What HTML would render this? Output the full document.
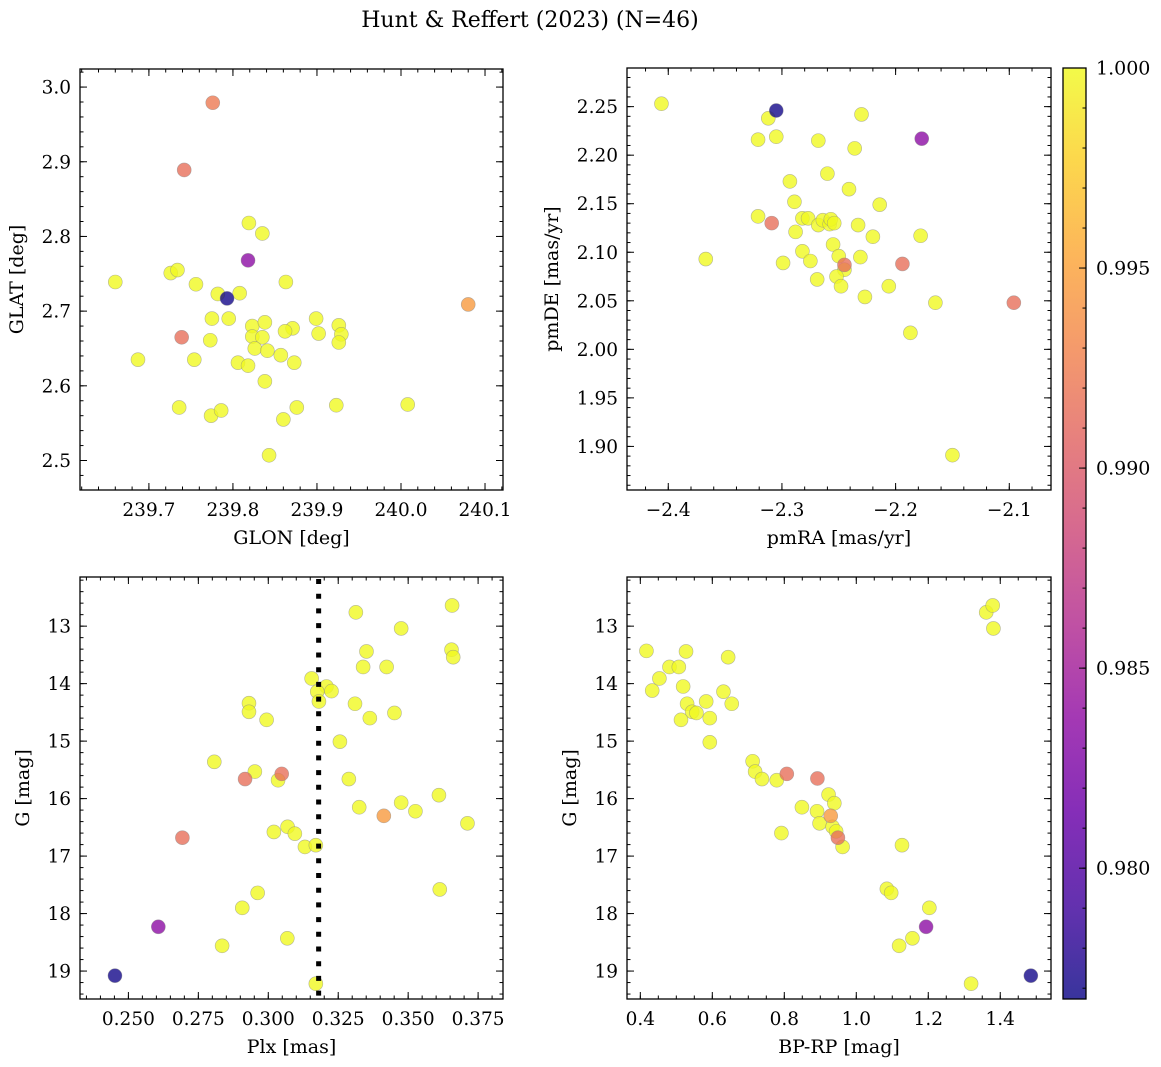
<!DOCTYPE html>
<html><head><meta charset="utf-8"><style>
html,body{margin:0;padding:0;background:#fff;}
svg{display:block;font-family:"DejaVu Serif","Liberation Serif",serif;}
</style></head><body>
<svg id="fig" width="1161" height="1067" viewBox="0 0 1161 1067" xmlns="http://www.w3.org/2000/svg">
<defs>
<linearGradient id="plasma" x1="0" y1="1" x2="0" y2="0">
<stop offset="0" stop-color="#0d0887"/><stop offset="0.1" stop-color="#41049d"/><stop offset="0.2" stop-color="#6a00a8"/><stop offset="0.3" stop-color="#8f0da4"/><stop offset="0.4" stop-color="#b12a90"/><stop offset="0.5" stop-color="#cc4778"/><stop offset="0.6" stop-color="#e16462"/><stop offset="0.7" stop-color="#f2844b"/><stop offset="0.8" stop-color="#fca636"/><stop offset="0.9" stop-color="#fcce25"/><stop offset="1" stop-color="#f0f921"/>
</linearGradient>
</defs>
<text x="530" y="27" font-size="22" text-anchor="middle">Hunt &amp; Reffert (2023) (N=46)</text>
</svg>
<script>
// ---- Panel 1: GLON / GLAT ----
const glon=[239.776,239.742,239.819,239.835,239.818,239.660,239.726,239.734,239.756,239.863,240.080,239.782,239.793,239.808,239.775,239.795,239.739,239.823,239.838,239.871,239.899,239.926,239.929,239.902,239.862,239.823,239.835,239.773,239.754,239.687,239.806,239.818,239.826,239.841,239.857,239.873,239.926,239.838,239.736,239.774,239.786,239.860,239.876,239.923,240.008,239.843];
const glat=[2.979,2.889,2.818,2.804,2.768,2.739,2.751,2.755,2.736,2.739,2.709,2.723,2.717,2.724,2.690,2.690,2.665,2.680,2.685,2.677,2.690,2.681,2.669,2.670,2.673,2.666,2.665,2.661,2.635,2.635,2.631,2.627,2.650,2.647,2.641,2.631,2.658,2.606,2.571,2.560,2.567,2.555,2.571,2.574,2.575,2.507];
const prob1=[0.9922,0.9915,1,1,0.9835,1,1,1,1,1,0.9945,1,0.977,1,1,1,0.9915,1,1,1,1,1,1,1,1,1,1,1,1,1,1,1,1,1,1,1,1,1,1,1,1,1,1,1,1,1];
// ---- Panel 2: pmRA / pmDE ----
const pmra=[-2.406,-2.305,-2.312,-2.321,-2.305,-2.268,-2.230,-2.236,-2.177,-2.260,-2.293,-2.241,-2.289,-2.214,-2.321,-2.309,-2.282,-2.277,-2.268,-2.264,-2.258,-2.257,-2.254,-2.233,-2.288,-2.220,-2.178,-2.255,-2.282,-2.367,-2.250,-2.231,-2.299,-2.275,-2.245,-2.245,-2.194,-2.252,-2.269,-2.248,-2.206,-2.227,-2.165,-2.096,-2.187,-2.150];
const pmde=[2.253,2.246,2.238,2.216,2.219,2.215,2.242,2.207,2.217,2.181,2.173,2.165,2.152,2.149,2.137,2.130,2.135,2.135,2.128,2.133,2.129,2.134,2.130,2.128,2.121,2.116,2.117,2.108,2.101,2.093,2.096,2.095,2.089,2.091,2.087,2.082,2.088,2.075,2.072,2.065,2.065,2.054,2.048,2.048,2.017,1.891];
const prob2=[1,0.977,1,1,1,1,1,1,0.9835,1,1,1,1,1,1,0.9915,1,1,1,1,1,1,1,1,1,1,1,1,1,1,1,1,1,1,0.9915,1,0.9915,1,1,1,1,1,1,0.9915,1,1];
// ---- Panel 3: Plx / G ----
const plx=[0.3313,0.3657,0.3475,0.3351,0.3655,0.3661,0.3339,0.3423,0.3155,0.3208,0.3226,0.3175,0.3181,0.2931,0.2931,0.3310,0.3451,0.3363,0.2994,0.3256,0.2807,0.2952,0.2917,0.3048,0.3035,0.3288,0.3610,0.3325,0.3475,0.3526,0.3413,0.3712,0.3069,0.3020,0.3095,0.2693,0.3131,0.3170,0.2962,0.3613,0.2907,0.2607,0.3068,0.2835,0.2452,0.3170];
const gmag3=[12.76,12.64,13.04,13.44,13.41,13.54,13.71,13.71,13.91,14.05,14.13,14.14,14.31,14.34,14.49,14.35,14.51,14.60,14.63,15.01,15.36,15.53,15.66,15.57,15.68,15.66,15.94,16.15,16.07,16.22,16.30,16.43,16.49,16.58,16.61,16.68,16.84,16.81,17.64,17.58,17.90,18.23,18.43,18.56,19.08,19.22];
const prob3=[1,1,1,1,1,1,1,1,1,1,1,1,1,1,1,1,1,1,1,1,1,1,0.9915,0.9915,1,1,1,1,1,1,0.9945,1,1,1,1,0.9915,1,1,1,1,1,0.9835,1,1,0.977,1];
const plxMean=[0.318];
// ---- Panel 4: BP-RP / G ----
const bprp=[0.417,0.527,0.644,0.481,0.507,0.453,0.433,0.519,0.631,0.583,0.654,0.530,0.544,0.556,0.513,0.593,0.593,0.712,0.719,0.738,0.807,0.779,0.892,0.923,0.939,0.849,0.891,0.929,0.898,0.934,0.944,0.949,0.962,0.792,1.127,1.085,1.097,1.203,1.194,1.156,1.119,1.485,1.319,1.361,1.379,1.381];
const gmag4=[13.43,13.44,13.54,13.71,13.71,13.91,14.12,14.05,14.14,14.31,14.35,14.35,14.49,14.51,14.63,14.60,15.02,15.35,15.53,15.66,15.57,15.68,15.65,15.93,16.08,16.15,16.22,16.30,16.43,16.49,16.57,16.68,16.84,16.60,16.81,17.57,17.64,17.90,18.23,18.43,18.56,19.08,19.22,12.76,12.64,13.04];
const prob4=[1,1,1,1,1,1,1,1,1,1,1,1,1,1,1,1,1,1,1,1,0.9915,1,0.9915,1,1,1,1,0.9945,1,1,1,0.9915,1,1,1,1,1,1,0.9835,1,1,0.977,1,1,1,1];
// ---- tick values ----
const ticksX1=[239.7,239.8,239.9,240.0,240.1];
const ticksY1=[2.5,2.6,2.7,2.8,2.9,3.0];
const ticksX2=[-2.4,-2.3,-2.2,-2.1];
const ticksY2=[1.90,1.95,2.00,2.05,2.10,2.15,2.20,2.25];
const ticksX3=[0.250,0.275,0.300,0.325,0.350,0.375];
const ticksY3=[13,14,15,16,17,18,19];
const ticksX4=[0.4,0.6,0.8,1.0,1.2,1.4];
const ticksY4=[13,14,15,16,17,18,19];
const cbTicks=[0.980,0.985,0.990,0.995,1.000];
const vmin=0.97673, vmax=1.0;

const NS="http://www.w3.org/2000/svg";
const svg=document.getElementById('fig');
function mk(tag,attrs,parent){const e=document.createElementNS(NS,tag);for(const k in attrs)e.setAttribute(k,attrs[k]);(parent||svg).appendChild(e);return e;}
const stops=[[13,8,135],[65,4,157],[106,0,168],[143,13,164],[177,42,144],[204,71,120],[225,100,98],[242,132,75],[252,166,54],[252,206,37],[240,249,33]];
function plasma(v){let t=(v-vmin)/(vmax-vmin);t=Math.max(0,Math.min(1,t))*10;const i=Math.min(9,Math.floor(t));const f=t-i;const a=stops[i],b=stops[i+1];return 'rgb('+[0,1,2].map(k=>Math.round(a[k]+(b[k]-a[k])*f)).join(',')+')';}
function fmt(v,d){const s=Math.abs(v).toFixed(d);return (v<0?'\u2212':'')+s;}
function minorRange(lo,hi,step){const r=[];const s=Math.ceil(lo/step-1e-9);for(let k=s;k*step<=hi+1e-9;k++)r.push(k*step);return r;}

function panel(p){
  const g=mk('g',{});
  
  
  const sx=v=>p.L+(v-p.x0)/(p.x1-p.x0)*(p.R-p.L);
  const sy=v=>p.inv? p.T+(v-p.y0)/(p.y1-p.y0)*(p.B-p.T) : p.B-(v-p.y0)/(p.y1-p.y0)*(p.B-p.T);
  const tg=mk('g',{stroke:'#000','stroke-width':1},g);
  minorRange(p.x0,p.x1,p.xm).forEach(v=>{const x=sx(v);mk('line',{x1:x,x2:x,y1:p.B,y2:p.B-3.5},tg);mk('line',{x1:x,x2:x,y1:p.T,y2:p.T+3.5},tg);});
  minorRange(Math.min(p.y0,p.y1),Math.max(p.y0,p.y1),p.ym).forEach(v=>{const y=sy(v);mk('line',{x1:p.L,x2:p.L+3.5,y1:y,y2:y},tg);mk('line',{x1:p.R,x2:p.R-3.5,y1:y,y2:y},tg);});
  p.xt.forEach(v=>{const x=sx(v);mk('line',{x1:x,x2:x,y1:p.B,y2:p.B-7},tg);mk('line',{x1:x,x2:x,y1:p.T,y2:p.T+7},tg);
    const t=mk('text',{x:x,y:p.B+26,'font-size':18.5,'text-anchor':'middle',fill:'#000',stroke:'none'},g);t.textContent=fmt(v,p.xd);
    
    });
  p.yt.forEach(v=>{const y=sy(v);mk('line',{x1:p.L,x2:p.L+7,y1:y,y2:y},tg);mk('line',{x1:p.R,x2:p.R-7,y1:y,y2:y},tg);
    const t=mk('text',{x:p.L-9,y:y+6.5,'font-size':18.5,'text-anchor':'end',fill:'#000'},g);t.textContent=fmt(v,p.yd);
    
    });
  const pg=mk('g',{},g);
  
  
  const idx=p.xs.map((_,i)=>i).sort((a,b)=>p.c[b]-p.c[a]);
  idx.forEach(i=>{const c=mk('circle',{cx:sx(p.xs[i]),cy:sy(p.ys[i]),r:7,fill:plasma(p.c[i]),'fill-opacity':0.8,stroke:'#888','stroke-opacity':0.6,'stroke-width':0.6},pg);
    
    });
  if(p.vline){p.vline.forEach(v=>{const l=mk('line',{x1:sx(v),x2:sx(v),y1:p.T+2,y2:p.B,stroke:'#000','stroke-width':5,'stroke-dasharray':'5 9.7'},g);
    
    });}
  const fr=mk('rect',{x:p.L,y:p.T,width:p.R-p.L,height:p.B-p.T,fill:'none',stroke:'#000','stroke-width':1.3},g);
  
  
  const xl=mk('text',{x:(p.L+p.R)/2,y:p.B+54,'font-size':19,'text-anchor':'middle'},g);xl.textContent=p.xl;
  
  
  const yx=p.ylx, yy=(p.T+p.B)/2;
  const yl=mk('text',{x:yx,y:yy,'font-size':19,'text-anchor':'middle',transform:'rotate(-90 '+yx+' '+yy+')'},g);yl.textContent=p.yl;
  
  
}
panel({name:'glon-glat-panel',L:80,R:503,T:69,B:490,x0:239.618,x1:240.1214,y0:2.4605,y1:3.0242,xs:glon,ys:glat,c:prob1,xt:ticksX1,yt:ticksY1,xd:1,yd:1,xm:0.02,ym:0.02,xl:'GLON [deg]',yl:'GLAT [deg]',ylx:23});
panel({name:'proper-motion-panel',L:627,R:1051,T:68,B:490,x0:-2.4363,x1:-2.0633,y0:1.8551,y1:2.2898,xs:pmra,ys:pmde,c:prob2,xt:ticksX2,yt:ticksY2,xd:1,yd:2,xm:0.02,ym:0.01,xl:'pmRA [mas/yr]',yl:'pmDE [mas/yr]',ylx:558});
panel({name:'parallax-magnitude-panel',L:80,R:503,T:577,B:999,x0:0.2327,x1:0.3839,y0:12.145,y1:19.486,inv:true,xs:plx,ys:gmag3,c:prob3,xt:ticksX3,yt:ticksY3,xd:3,yd:0,xm:0.005,ym:0.2,xl:'Plx [mas]',yl:'G [mag]',ylx:29,vline:plxMean});
panel({name:'color-magnitude-panel',L:627,R:1051,T:577,B:999,x0:0.363,x1:1.541,y0:12.145,y1:19.486,inv:true,xs:bprp,ys:gmag4,c:prob4,xt:ticksX4,yt:ticksY4,xd:1,yd:0,xm:0.05,ym:0.2,xl:'BP-RP [mag]',yl:'G [mag]',ylx:576});
const cb=mk('g',{});


const cT=68,cB=999,cL=1063,cR=1086;
mk('rect',{x:cL,y:cT,width:cR-cL,height:cB-cT,fill:'url(#plasma)','fill-opacity':0.82},cb);
const cy=v=>cB-(v-vmin)/(vmax-vmin)*(cB-cT);
minorRange(vmin,vmax,0.001).forEach(v=>{mk('line',{x1:cR,x2:cR-3.5,y1:cy(v),y2:cy(v),stroke:'#000','stroke-width':1},cb);});
cbTicks.forEach(v=>{const y=cy(v);mk('line',{x1:cR,x2:cR-7,y1:y,y2:y,stroke:'#000','stroke-width':1},cb);
  const t=mk('text',{x:cR+10,y:y+6.5,'font-size':19},cb);t.textContent=v.toFixed(3);
  
  });
mk('rect',{x:cL,y:cT,width:cR-cL,height:cB-cT,fill:'none',stroke:'#000','stroke-width':1.3},cb);
</script>
</body></html>
